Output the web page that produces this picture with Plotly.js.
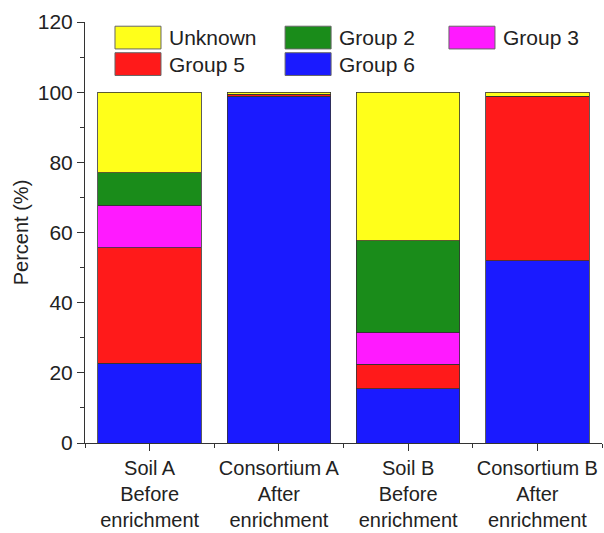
<!DOCTYPE html>
<html>
<head>
<meta charset="utf-8">
<script src="https://cdn.plot.ly/plotly-3.0.1.min.js"></script>
<style>html,body{margin:0;padding:0;background:#fff;}#chart{width:604px;height:533px;}</style>
</head>
<body>
<div id="chart"></div>
<script>
// Categories (x tick labels)
const categories = ["Soil A<br>Before<br>enrichment", "Consortium A<br>After<br>enrichment", "Soil B<br>Before<br>enrichment", "Consortium B<br>After<br>enrichment"];
const categoryIndex = [0, 1, 2, 3];

// Series values (percent), stacked bottom to top
const group6 = [22.8, 98.8, 15.4, 51.9];
const group5 = [32.8, 0.6, 7.1, 47.0];
const group3 = [12.2, 0.0, 9.1, 0.0];
const group2 = [9.2, 0.0, 26.0, 0.0];
const unknown = [23.0, 0.6, 42.4, 1.1];

const seriesNames = ["Group 6", "Group 5", "Group 3", "Group 2", "Unknown"];
const seriesValues = [group6, group5, group3, group2, unknown];
const seriesColors = ["#1a1aff", "#ff1a1a", "#ff1aff", "#1a8c1a", "#ffff1a"];

const traces = seriesNames.map((name, i) => ({
  type: "bar",
  name: name,
  x: categoryIndex,
  y: seriesValues[i],
  marker: { color: seriesColors[i], line: { color: "#333", width: 0.8 } },
  showlegend: false,
  hoverinfo: "name+y"
}));

// Custom legend (wide swatches), order as in the reference
const legendOrder = ["Unknown", "Group 2", "Group 3", "Group 5", "Group 6"];
const legendCols = [0.058, 0.387, 0.704];
const legendRows = [0.963, 0.900];
const shapes = [];
const annotations = [];
legendOrder.forEach((nm, k) => {
  const col = k % 3, row = Math.floor(k / 3);
  const idx = seriesNames.indexOf(nm);
  const x0 = legendCols[col];
  const yc = legendRows[row];
  shapes.push({
    type: "rect", xref: "paper", yref: "paper",
    x0: x0, x1: x0 + 0.089, y0: yc - 0.027, y1: yc + 0.027,
    fillcolor: seriesColors[idx], line: { color: "#666", width: 1 }
  });
  annotations.push({
    xref: "paper", yref: "paper", x: x0 + 0.1, y: yc,
    xanchor: "left", yanchor: "middle", showarrow: false,
    text: nm, font: { family: "Liberation Sans, Arial, sans-serif", size: 21, color: "#222" }
  });
});

const layout = {
  width: 604, height: 533,
  margin: { l: 85, r: 2, t: 22, b: 90 },
  barmode: "stack",
  bargap: 0.2,
  paper_bgcolor: "#fff", plot_bgcolor: "#fff",
  font: { family: "Liberation Sans, Arial, sans-serif", color: "#222" },
  xaxis: {
    range: [-0.5, 3.5],
    tickvals: categoryIndex, ticktext: categories,
    ticks: "outside", ticklen: 7, tickwidth: 1, tickcolor: "#333",
    minor: { tick0: 0.5, dtick: 1, ticks: "outside", ticklen: 4, tickcolor: "#333" },
    showline: true, linecolor: "#333", linewidth: 1,
    showgrid: false, zeroline: false,
    tickfont: { size: 20, color: "#222" }
  },
  yaxis: {
    range: [0, 120],
    tick0: 0, dtick: 20,
    ticks: "outside", ticklen: 7, tickwidth: 1, tickcolor: "#333",
    minor: { tick0: 10, dtick: 20, ticks: "outside", ticklen: 4, tickcolor: "#333" },
    showline: true, linecolor: "#333", linewidth: 1,
    showgrid: false, zeroline: false,
    tickfont: { size: 21, color: "#222" },
    title: { text: "Percent (%)", font: { size: 20, color: "#222" }, standoff: 3 }
  },
  shapes: shapes,
  annotations: annotations,
  showlegend: false
};

Plotly.newPlot("chart", traces, layout, { displayModeBar: false, staticPlot: true });
</script>
</body>
</html>
